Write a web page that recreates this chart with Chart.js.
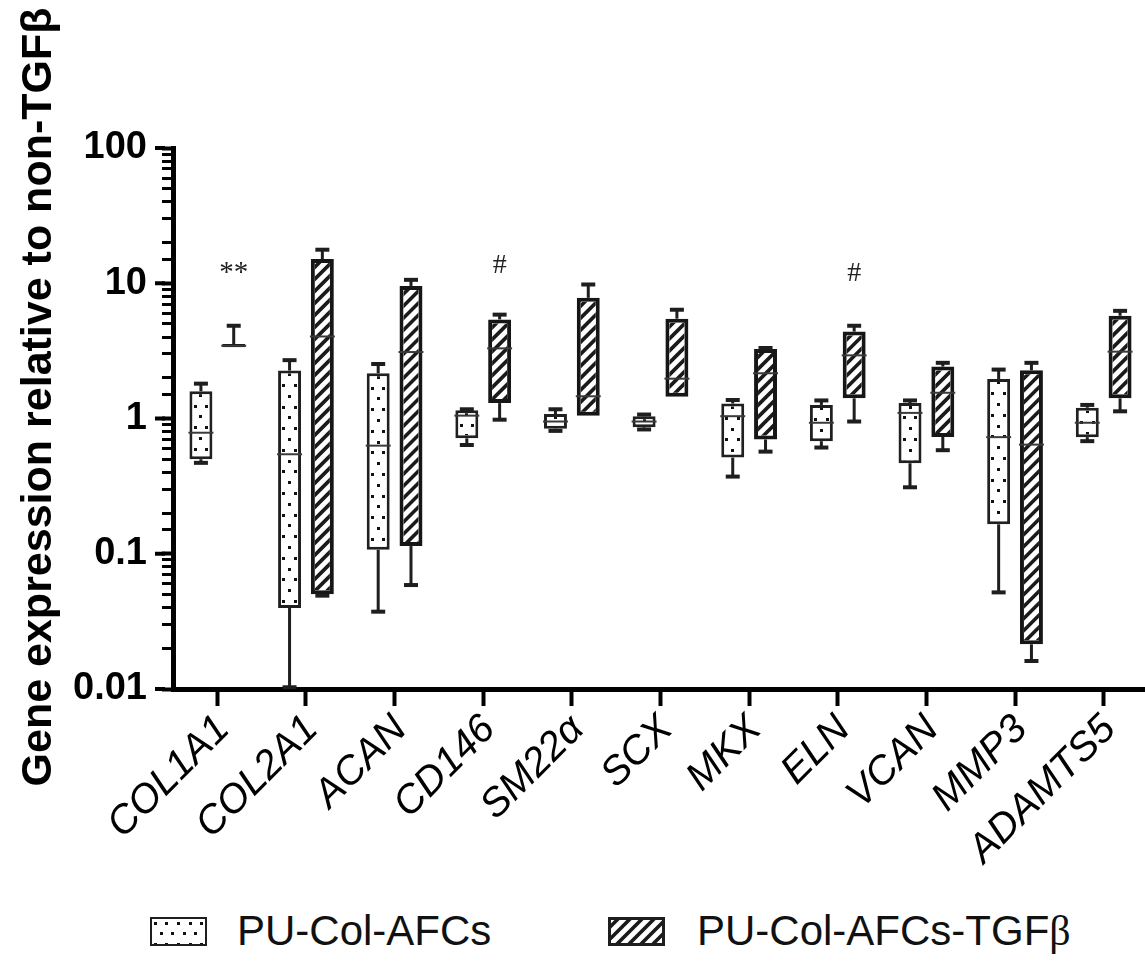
<!DOCTYPE html>
<html>
<head>
<meta charset="utf-8">
<script src="https://cdn.jsdelivr.net/npm/chart.js@4.4.0/dist/chart.umd.min.js"></script>
<style>
  html, body { margin: 0; padding: 0; background: #fff; overflow: hidden; }
  #wrap { position: relative; width: 1145px; height: 979px; overflow: hidden; }
  #chart { position: absolute; left: 0; top: 0; }
  .leg { position: absolute; font-family: Arial, "Liberation Sans", sans-serif; font-size: 42px; line-height: 42px; color: #111; white-space: nowrap; }
  .sw { position: absolute; }
  .greek { font-family: "Liberation Serif", "DejaVu Serif", serif; }
</style>
</head>
<body>
<div id="wrap">
  <canvas id="chart" width="1148" height="890"></canvas>
  <canvas class="sw" id="sw0" width="57" height="29" style="left:150px;top:917px"></canvas>
  <div class="leg" style="left:237px;top:910px">PU-Col-AFCs</div>
  <canvas class="sw" id="sw1" width="57" height="29" style="left:608px;top:917px"></canvas>
  <div class="leg" style="left:697px;top:910px">PU-Col-AFCs-TGF<span class="greek">β</span></div>
</div>
<script>
// genes on the x axis
const genes = ['COL1A1', 'COL2A1', 'ACAN', 'CD146', 'SM22α', 'SCX', 'MKX', 'ELN', 'VCAN', 'MMP3', 'ADAMTS5'];
const seriesNames = ['PU-Col-AFCs', 'PU-Col-AFCs-TGFβ'];

// PU-Col-AFCs (dotted boxes): min, q1, median, q3, max
const plainMin = [0.47, 0.0103, 0.0373, 0.637, 0.81, 0.83, 0.372, 0.61, 0.31, 0.0518, 0.68];
const plainQ1  = [0.50, 0.0397, 0.107, 0.714, 0.84, 0.86, 0.514, 0.68, 0.467, 0.165, 0.728];
const plainMed = [0.785, 0.544, 0.63, 1.05, 0.95, 0.95, 1.04, 0.93, 1.10, 0.728, 0.93];
const plainQ3  = [1.59, 2.26, 2.16, 1.15, 1.08, 1.04, 1.29, 1.26, 1.30, 1.96, 1.20];
const plainMax = [1.81, 2.70, 2.53, 1.17, 1.17, 1.07, 1.37, 1.36, 1.36, 2.30, 1.26];

// PU-Col-AFCs-TGFβ (hatched boxes)
const tgfMin = [3.36, 0.049, 0.0587, 0.98, 1.04, 1.43, 0.569, 0.95, 0.583, 0.0161, 1.13];
const tgfQ1  = [3.36, 0.0502, 0.114, 1.30, 1.05, 1.45, 0.70, 1.41, 0.73, 0.0214, 1.41];
const tgfMed = [3.45, 4.04, 3.10, 3.30, 1.46, 1.97, 2.16, 2.93, 1.55, 0.641, 3.12];
const tgfQ3  = [3.55, 15.1, 9.55, 5.40, 7.80, 5.47, 3.26, 4.39, 2.42, 2.27, 5.75];
const tgfMax = [4.85, 17.7, 10.6, 5.86, 9.79, 6.37, 3.32, 4.85, 2.58, 2.58, 6.25];

// significance marks above the TGFβ boxes
const marks   = ['**', '', '', '#', '', '', '', '#', '', '', ''];
const markVal = [11.8, null, null, 13.6, null, null, null, 11.7, null, null, null];

// y axis
const yTicks = [0.01, 0.1, 1, 10, 100];
const yTickLabels = ['0.01', '0.1', '1', '10', '100'];
const yTitle = 'Gene expression relative to non-TGFβ';

const stats = [
  { min: plainMin, q1: plainQ1, med: plainMed, q3: plainQ3, max: plainMax },
  { min: tgfMin, q1: tgfQ1, med: tgfMed, q3: tgfQ3, max: tgfMax }
];

const sans = 'Arial, "Liberation Sans", sans-serif';
const serif = '"Liberation Serif", "Times New Roman", serif';

function drawDots(ctx, left, top, w, h) {
  ctx.fillStyle = '#111';
  const cx = left + w / 2;
  let r = 0;
  for (let yy = top + 4; yy < top + h + 2; yy += 10.8, r++) {
    const shift = r % 2 === 0 ? 0 : 5.8;
    for (let k = -8; k <= 8; k++) {
      const xx = cx + shift + k * 11.6;
      if (xx < left - 3 || xx > left + w + 3) continue;
      ctx.fillRect(Math.round(xx - 1.5), Math.round(yy - 1.5), 3, 3);
    }
  }
}

function drawHatch(ctx, left, top, w, h) {
  ctx.strokeStyle = '#1a1a1a';
  ctx.lineWidth = 3.6;
  ctx.beginPath();
  for (let k = -h - 12; k < w + 12; k += 12) {
    ctx.moveTo(left + k, top + h);
    ctx.lineTo(left + k + h, top);
  }
  ctx.stroke();
}

const boxExtras = {
  id: 'boxExtras',
  afterDatasetsDraw(chart) {
    const ctx = chart.ctx;
    const y = chart.scales.y;
    chart.data.datasets.forEach((ds, d) => {
      const meta = chart.getDatasetMeta(d);
      const s = stats[d];
      meta.data.forEach((bar, i) => {
        const half = bar.width / 2;
        const left = bar.x - half, right = bar.x + half;
        const top = Math.min(bar.y, bar.base), bottom = Math.max(bar.y, bar.base);
        const bw = ds.borderWidth;

        // fill pattern inside the border
        if (bottom - top > 2 * bw) {
          ctx.save();
          ctx.beginPath();
          ctx.rect(left + bw, top + bw, right - left - 2 * bw, bottom - top - 2 * bw);
          ctx.clip();
          if (d === 0) drawDots(ctx, left, top, right - left, bottom - top);
          else drawHatch(ctx, left, top, right - left, bottom - top);
          ctx.restore();
        }

        ctx.save();
        // median
        const ym = y.getPixelForValue(s.med[i]);
        ctx.strokeStyle = '#3a3a3a';
        ctx.lineWidth = 2;
        ctx.beginPath();
        ctx.moveTo(left - 1, ym);
        ctx.lineTo(right + 1, ym);
        ctx.stroke();

        // whiskers
        const yMax = y.getPixelForValue(s.max[i]);
        const yMin = y.getPixelForValue(s.min[i]);
        ctx.strokeStyle = '#1e1e1e';
        if (yMax < top - 1) {
          ctx.lineWidth = 3;
          ctx.beginPath(); ctx.moveTo(bar.x, top); ctx.lineTo(bar.x, yMax); ctx.stroke();
          ctx.lineWidth = 4;
          ctx.beginPath(); ctx.moveTo(bar.x - 7, yMax); ctx.lineTo(bar.x + 7, yMax); ctx.stroke();
        }
        if (yMin > bottom + 1) {
          ctx.lineWidth = 3;
          ctx.beginPath(); ctx.moveTo(bar.x, bottom); ctx.lineTo(bar.x, yMin); ctx.stroke();
          ctx.lineWidth = 4;
          ctx.beginPath(); ctx.moveTo(bar.x - 7, yMin); ctx.lineTo(bar.x + 7, yMin); ctx.stroke();
        }
        ctx.restore();
      });
    });

    // significance marks over the TGFβ boxes
    const tgfMeta = chart.getDatasetMeta(1);
    ctx.save();
    ctx.fillStyle = '#222';
    ctx.textAlign = 'center';
    ctx.textBaseline = 'middle';
    marks.forEach((m, i) => {
      if (!m) return;
      ctx.font = (m === '#' ? '28px ' : '29px ') + serif;
      ctx.fillText(m, tgfMeta.data[i].x, y.getPixelForValue(markVal[i]));
    });
    ctx.restore();
  },
  afterDraw(chart) {
    const ctx = chart.ctx;
    const y = chart.scales.y;
    const x0 = chart.chartArea.left;
    ctx.save();
    // longer marks at the decades
    ctx.strokeStyle = '#000';
    ctx.lineWidth = 4;
    yTicks.forEach(v => {
      const py = y.getPixelForValue(v);
      ctx.beginPath();
      ctx.moveTo(x0 - 18, py);
      ctx.lineTo(x0 - 8, py);
      ctx.stroke();
    });
    // axis title
    ctx.fillStyle = '#000';
    ctx.font = 'bold 43px ' + sans;
    ctx.textAlign = 'center';
    ctx.textBaseline = 'alphabetic';
    ctx.translate(51, 397);
    ctx.rotate(-Math.PI / 2);
    ctx.fillText(yTitle, 0, 0);
    ctx.restore();
  }
};

const ctx = document.getElementById('chart').getContext('2d');

const myChart = new Chart(ctx, {
  type: 'bar',
  data: {
    labels: genes,
    datasets: [
      {
        label: seriesNames[0],
        data: plainQ1.map((v, i) => [v, plainQ3[i]]),
        backgroundColor: '#fff',
        borderColor: '#202020',
        borderWidth: 3,
        borderSkipped: false
      },
      {
        label: seriesNames[1],
        data: tgfQ1.map((v, i) => [v, tgfQ3[i]]),
        backgroundColor: '#fff',
        borderColor: '#161616',
        borderWidth: 4,
        borderSkipped: false
      }
    ]
  },
  options: {
    responsive: false,
    animation: false,
    categoryPercentage: 0.74,
    barPercentage: 0.7,
    layout: { padding: { top: 148, left: 0, right: 0, bottom: 0 } },
    plugins: {
      legend: { display: false },
      tooltip: { enabled: false },
      title: { display: false }
    },
    scales: {
      x: {
        offset: true,
        border: { display: true, color: '#000', width: 5 },
        grid: { display: true, drawOnChartArea: false, drawTicks: true, offset: false, tickLength: 17, tickWidth: 4, tickColor: '#000' },
        ticks: {
          color: '#000',
          autoSkip: false,
          minRotation: 45,
          maxRotation: 45,
          padding: 0,
          labelOffset: 6,
          font: { family: sans, size: 40, style: 'italic' }
        },
        afterFit(scale) {
          scale.height = 890 - 689;
          scale.paddingLeft = 0;
          scale.paddingRight = 0;
        }
      },
      y: {
        type: 'logarithmic',
        min: 0.01,
        max: 100,
        border: { display: true, color: '#000', width: 5 },
        grid: {
          display: true,
          drawOnChartArea: false,
          drawTicks: true,
          tickLength: 11,
          tickColor: '#000',
          tickWidth: c => (yTicks.some(v => Math.abs(Math.log10(c.tick.value) - Math.log10(v)) < 1e-6) ? 4 : 3)
        },
        ticks: {
          autoSkip: false,
          color: '#000',
          padding: 15,
          font: { family: sans, size: 38, weight: 'bold' },
          callback: function (value) {
            const e = Math.log10(value);
            if (Math.abs(e - Math.round(e)) > 1e-6) return '';
            const idx = yTicks.findIndex(v => Math.abs(Math.log10(v) - e) < 1e-6);
            return idx >= 0 ? yTickLabels[idx] : '';
          }
        },
        afterFit(scale) {
          scale.width = 173;
        }
      }
    }
  },
  plugins: [boxExtras]
});

// legend swatches
[['sw0', 0], ['sw1', 1]].forEach(([id, d]) => {
  const c = document.getElementById(id).getContext('2d');
  const w = 57, h = 29, bw = d === 0 ? 2 : 3;
  c.fillStyle = '#1e1e1e';
  c.fillRect(0, 0, w, h);
  c.fillStyle = '#fff';
  c.fillRect(bw, bw, w - 2 * bw, h - 2 * bw);
  c.save();
  c.beginPath();
  c.rect(bw, bw, w - 2 * bw, h - 2 * bw);
  c.clip();
  if (d === 0) drawDots(c, 0, 2, w, h);
  else drawHatch(c, 0, 0, w, h);
  c.restore();
});
</script>
</body>
</html>
